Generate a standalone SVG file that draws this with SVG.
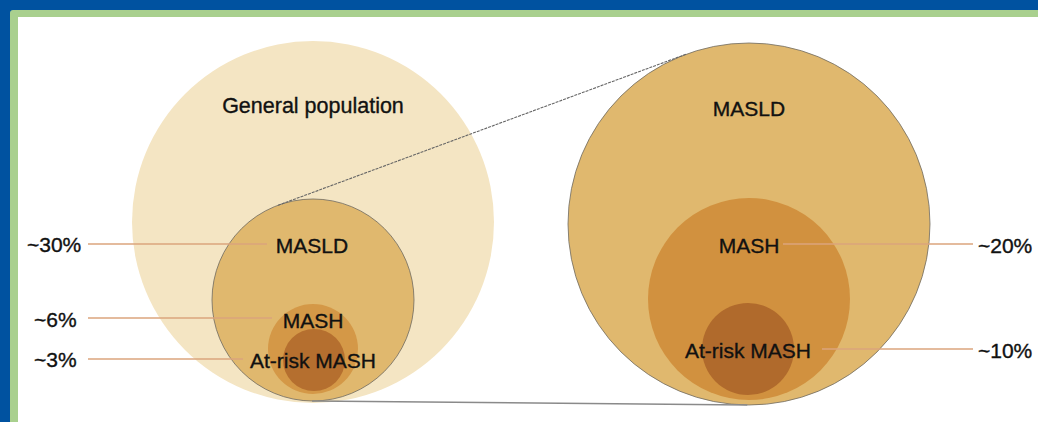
<svg xmlns="http://www.w3.org/2000/svg" width="1038" height="422" viewBox="0 0 1038 422">
<style>
text{font-family:"Liberation Sans",Arial,sans-serif;font-size:21px;fill:#111;stroke:#111;stroke-width:0.35}
.c{text-anchor:middle}
.lead{stroke:#dba57c;stroke-width:1.6;fill:none}
.edge{stroke:#6e6a60;stroke-width:0.8}
</style>
<rect x="0" y="0" width="1038" height="422" fill="#0052a0"/>
<rect x="10" y="10" width="1040" height="420" rx="3" fill="#a9d08e"/>
<rect x="18" y="17" width="1030" height="410" fill="#ffffff"/>
<g id="left-general">
<circle cx="313" cy="222" r="181" fill="#f4e5c3"/>
<text class="c" x="313" y="113" style="font-size:21.5px">General population</text>
</g>
<g id="left-masld">
<circle class="edge" cx="313" cy="300" r="101" fill="#e0b86e"/>
</g>
<g id="left-mash">
<circle cx="313" cy="349" r="45" fill="#d49847"/>
</g>
<g id="left-atrisk">
<circle cx="314" cy="360" r="31" fill="#b56f2f"/>
</g>
<g id="right-masld">
<circle class="edge" cx="749" cy="224" r="181" fill="#e0b86e"/>
<text class="c" x="749" y="116">MASLD</text>
</g>
<g id="right-mash">
<circle cx="749" cy="299" r="101" fill="#d1913f"/>
</g>
<g id="right-atrisk">
<circle cx="748" cy="349" r="46" fill="#b06a2c"/>
</g>
<g id="connectors">
<line x1="278" y1="205.3" x2="686.2" y2="54.2" stroke="#666" stroke-width="1.1" stroke-dasharray="3 1"/>
<line x1="312" y1="401" x2="747.3" y2="405" stroke="#8a8a8a" stroke-width="1.6"/>
<line class="lead" x1="88" y1="244" x2="267" y2="244"/>
<line class="lead" x1="88" y1="318" x2="272" y2="318"/>
<line class="lead" x1="88" y1="359" x2="243" y2="359"/>
<line class="lead" x1="783" y1="244" x2="973" y2="244"/>
<line class="lead" x1="822" y1="349" x2="973" y2="349"/>
</g>
<g id="labels">
<text class="c" x="312" y="253">MASLD</text>
<text class="c" x="313" y="328">MASH</text>
<text class="c" x="313" y="368">At-risk MASH</text>
<text x="27" y="252">~30%</text>
<text x="34" y="327">~6%</text>
<text x="34" y="367">~3%</text>
<text class="c" x="749" y="253">MASH</text>
<text class="c" x="748" y="358">At-risk MASH</text>
<text x="978" y="253">~20%</text>
<text x="978" y="358">~10%</text>
</g>
</svg>
